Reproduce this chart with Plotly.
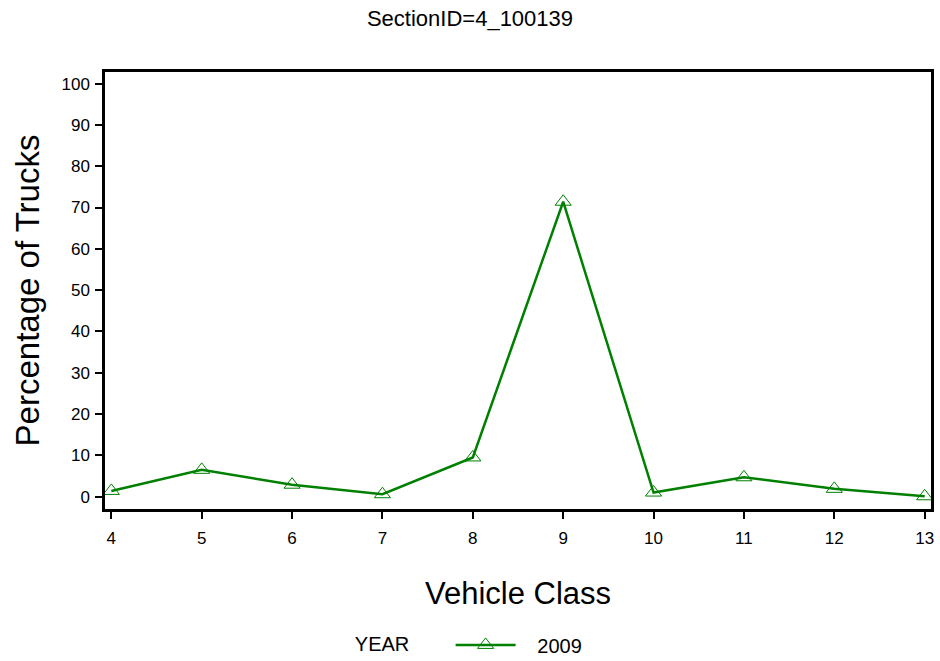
import plotly.graph_objects as go

vehicle_class = [4, 5, 6, 7, 8, 9, 10, 11, 12, 13]
pct_2009 = [1.4, 6.5, 2.9, 0.6, 9.5, 71.4, 1.0, 4.7, 1.9, 0.1]
y_ticks = [0, 10, 20, 30, 40, 50, 60, 70, 80, 90, 100]

FONT = "Liberation Sans, Arial, sans-serif"
GREEN = "#008000"

fig = go.Figure()
fig.add_trace(go.Scatter(
    x=vehicle_class, y=pct_2009, mode="lines+markers", name="\u00a0\u00a0\u00a02009",
    line=dict(color=GREEN, width=2.5),
    marker=dict(symbol="triangle-up-open", size=14, color=GREEN, line=dict(width=1)),
))

fig.update_layout(
    width=940, height=661,
    paper_bgcolor="white", plot_bgcolor="white",
    margin=dict(l=105, r=9, t=72, b=152, autoexpand=False),
    font=dict(family=FONT, color="black", size=17),
    title=dict(text="SectionID=4_100139", x=0.5, xanchor="center", y=0.973, yanchor="middle",
               font=dict(size=22, family=FONT)),
    showlegend=True,
    legend=dict(orientation="h", x=0.3, xanchor="left", y=-0.311, yanchor="middle",
                title=dict(text="YEAR      ", font=dict(size=20)), font=dict(size=20),
                itemwidth=60),
    xaxis=dict(
        range=[3.93, 13.07], tickmode="array", tickvals=vehicle_class,
        ticks="outside", ticklen=7, tickwidth=2, tickcolor="black",
        showline=True, linewidth=2.5, linecolor="black", mirror=True,
        showgrid=False, zeroline=False, automargin=False,
        ticklabelstandoff=5,
        title=dict(text="Vehicle Class", font=dict(size=31), standoff=36),
        tickfont=dict(size=17),
    ),
    yaxis=dict(
        range=[-2.98, 102.8], tickmode="array", tickvals=y_ticks,
        ticks="outside", ticklen=7, tickwidth=2, tickcolor="black",
        showline=True, linewidth=2.5, linecolor="black", mirror=True,
        showgrid=False, zeroline=False, automargin=False,
        ticklabelstandoff=2,
        title=dict(text="Percentage of Trucks", font=dict(size=33), standoff=12),
        tickfont=dict(size=17),
    ),
)

fig.write_html("out.html", config={"displayModeBar": False},
               post_script="document.body.style.margin='0';")
